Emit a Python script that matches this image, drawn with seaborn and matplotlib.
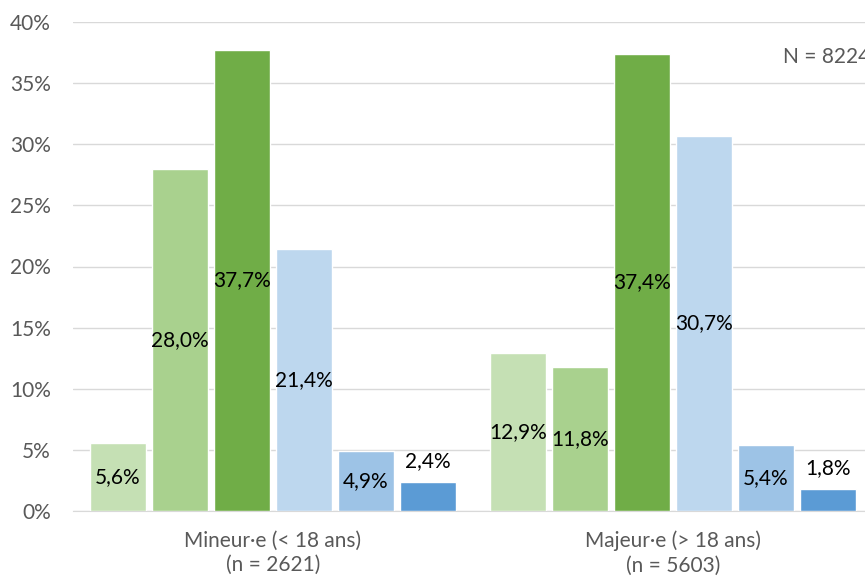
import pandas as pd
import matplotlib.pyplot as plt
import seaborn as sns

groups = ["Mineur·e (< 18 ans)\n(n = 2621)", "Majeur·e (> 18 ans)\n(n = 5603)"]
series = ["s1", "s2", "s3", "s4", "s5", "s6"]
minor_vals = [5.6, 28.0, 37.7, 21.4, 4.9, 2.4]
major_vals = [12.9, 11.8, 37.4, 30.7, 5.4, 1.8]
colors = ["#C5E0B4", "#A9D18E", "#70AD47", "#BDD7EE", "#9DC3E6", "#5B9BD5"]
y_ticks = [0, 5, 10, 15, 20, 25, 30, 35, 40]
total_note = "N = 8224"

rows = []
for g, vals in zip(groups, [minor_vals, major_vals]):
    for s, v in zip(series, vals):
        rows.append({"groupe": g, "serie": s, "pct": v})
df = pd.DataFrame(rows)

sns.set_style("white")
plt.rcParams["font.family"] = ["Lato", "DejaVu Sans"]

fig = plt.figure(figsize=(8.65, 5.81), dpi=100)
ax = fig.add_axes([73 / 865, 70 / 581, 800 / 865, 489 / 581])

sns.barplot(data=df, x="groupe", y="pct", hue="serie", palette=colors,
            width=0.93, gap=0.1, legend=False, ax=ax, saturation=1,
            errorbar=None, zorder=3)

# libellés au centre des barres, au-dessus pour les petites valeurs
for cont in ax.containers:
    for p in cont.patches:
        v = p.get_height()
        txt = f"{v:.1f}".replace(".", ",") + "%"
        cx = p.get_x() + p.get_width() / 2
        if v < 3:
            ax.text(cx, v + 0.9, txt, ha="center", va="bottom", fontsize=15,
                    color="black", zorder=4)
        else:
            ax.text(cx, v / 2, txt, ha="center", va="center", fontsize=15,
                    color="black", zorder=4)

ax.set_ylim(0, 40)
ax.set_xlim(-0.5, 1.5)
ax.set_yticks(y_ticks)
ax.set_yticklabels([f"{t}%" for t in y_ticks])
ax.yaxis.grid(True, color="#D9D9D9", linewidth=1, zorder=0)
ax.set_axisbelow(True)
for side in ["top", "right", "left"]:
    ax.spines[side].set_visible(False)
ax.spines["bottom"].set_color("#D9D9D9")
ax.tick_params(axis="both", length=0, labelsize=15, colors="#595959")
ax.tick_params(axis="y", pad=16)
ax.tick_params(axis="x", pad=14)
for lbl in ax.get_xticklabels():
    lbl.set_linespacing(1.3)
ax.set_xlabel("")
ax.set_ylabel("")

ax.text((783 - 73) / 800, (511 - 57) / 489, total_note, transform=ax.transAxes,
        ha="left", va="center", fontsize=15, color="#595959", clip_on=False)

fig.savefig("out.png", dpi=100)
